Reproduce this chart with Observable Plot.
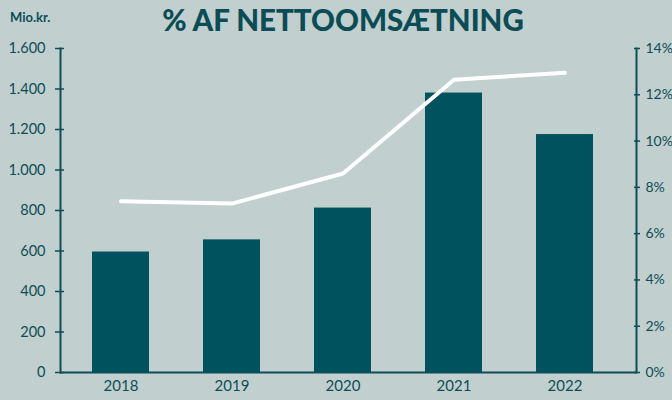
<!DOCTYPE html>
<html>
<head>
<meta charset="utf-8">
<script src="https://cdn.jsdelivr.net/npm/d3@7"></script>
<script src="https://cdn.jsdelivr.net/npm/@observablehq/plot@0.6"></script>
<style>
  html, body { margin: 0; padding: 0; background: #c1d0cf; }
  #wrap { position: relative; width: 672px; height: 400px; background: #c1d0cf; overflow: hidden; font-family: Lato, "Open Sans", sans-serif; color: #0e4d57; }
  #title { position: absolute; left: 0; width: 686px; top: 2px; text-align: center; font-size: 29.5px; font-weight: 900; color: #0b4c56; }
  #unit { position: absolute; left: 10px; top: 9px; font-size: 13px; font-weight: 700; color: #0b4c56; }
  #chart { position: absolute; left: 0; top: 0; }
</style>
</head>
<body>
<div id="wrap">
  <div id="chart"></div>
  <div id="title">% AF NETTOOMSÆTNING</div>
  <div id="unit">Mio.kr.</div>
</div>
<script>
const years = ["2018", "2019", "2020", "2021", "2022"];
const revenue = [595, 655, 812, 1380, 1175];          // Mio.kr.
const pctOfSales = [7.4, 7.3, 8.6, 12.65, 12.95];      // % af nettoomsætning
const leftTicks = [0, 200, 400, 600, 800, 1000, 1200, 1400, 1600];
const rightTicks = [0, 2, 4, 6, 8, 10, 12, 14];
const leftMax = 1600;
const rightMax = 14;

const k = leftMax / rightMax;
const data = years.map((y, i) => ({year: y, revenue: revenue[i], pct: pctOfSales[i]}));
const ink = "#0e4d57";
const fmt = d3.format(",");
const daFmt = d => fmt(d).replace(/,/g, ".");

const chart = Plot.plot({
  width: 672,
  height: 400,
  marginLeft: 60,
  marginRight: 36,
  marginTop: 48,
  marginBottom: 28,
  style: {background: "transparent", fontFamily: "Lato, 'Open Sans', sans-serif", fontSize: "15px", color: ink},
  x: {type: "band", domain: years, paddingInner: 0.49, paddingOuter: 0.245, insetLeft: 3, insetRight: 14, axis: null, label: null},
  y: {domain: [0, leftMax], axis: null, label: null},
  marks: [
    Plot.barY(data, {x: "year", y: "revenue", fill: "#00525e"}),
    Plot.line(data, {x: "year", y: d => d.pct * k, stroke: "#ffffff", strokeWidth: 4, strokeLinecap: "round", strokeLinejoin: "round"}),
    Plot.frame({anchor: "left", stroke: ink, strokeWidth: 2}),
    Plot.frame({anchor: "right", stroke: ink, strokeWidth: 2}),
    Plot.ruleY([0], {stroke: ink, strokeWidth: 2}),
    Plot.axisY(leftTicks, {anchor: "left", label: null, tickSize: 9, dx: 4, tickPadding: 10, tickFormat: daFmt, stroke: ink, strokeWidth: 1.5, fill: ink, fontSize: 14.5}),
    Plot.axisY(rightTicks.map(p => p * k), {anchor: "right", label: null, tickSize: 6, dx: -3, tickPadding: 6, tickFormat: d => Math.round(d / k) + "%", stroke: ink, strokeWidth: 1.5, fill: ink, fontSize: 14, letterSpacing: "-0.5px"}),
    Plot.axisX(years, {anchor: "bottom", label: null, tickSize: 0, tickPadding: 8, fill: ink, fontSize: 15})
  ]
});
document.getElementById("chart").appendChild(chart);
</script>
</body>
</html>
